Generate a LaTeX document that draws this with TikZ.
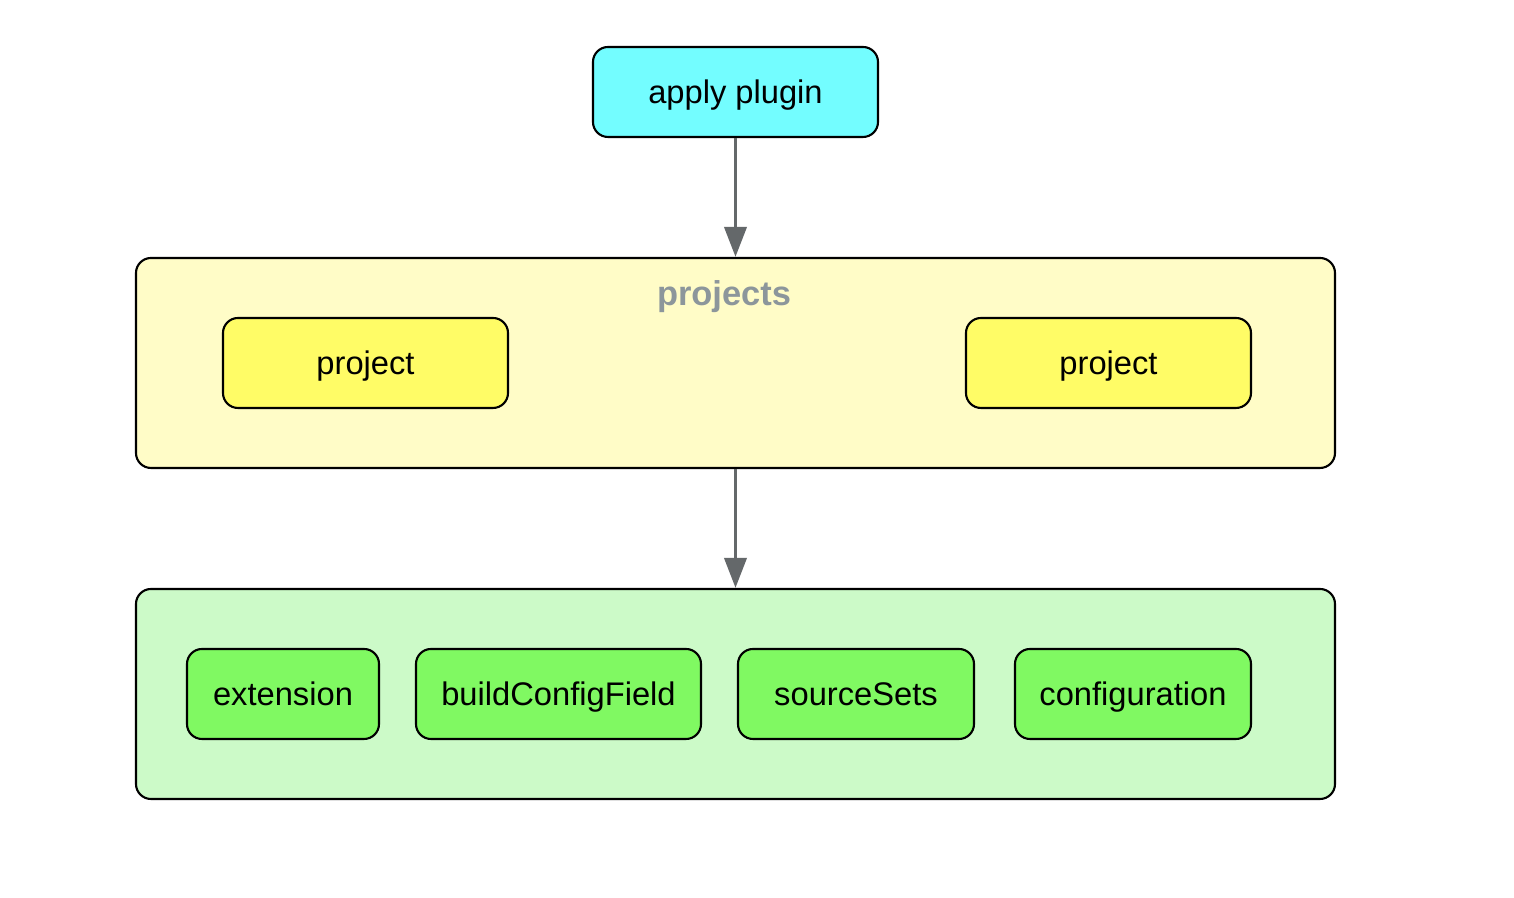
\documentclass[tikz,border=0pt]{standalone}
\usepackage{fontspec}
\setmainfont{Liberation Sans}
\usetikzlibrary{arrows.meta}
\definecolor{applycyan}{RGB}{115,253,255}
\definecolor{groupyellow}{RGB}{255,252,199}
\definecolor{projyellow}{RGB}{255,252,102}
\definecolor{groupgreen}{RGB}{204,250,200}
\definecolor{itemgreen}{RGB}{128,249,98}
\definecolor{arrowgray}{RGB}{100,104,106}
\definecolor{labelgray}{RGB}{140,150,155}
\tikzset{
    box/.style={draw, line width=0.6pt, rounded corners=0.15cm, minimum height=0.9cm, text height=0.8em, text depth=0.12em, font=\fontsize{9.3}{11}\selectfont},
    group/.style={draw, line width=0.6pt, rounded corners=0.15cm, minimum width=11.99cm, minimum height=2.1cm},
    flow/.style={draw=arrowgray, line width=1.1pt, -{Triangle[length=0.3cm,width=0.22cm]}}
}
\begin{document}
\begin{tikzpicture}
    \useasboundingbox (0,0) rectangle (15.14,8.98);
    % Top
    \node[box, fill=applycyan, minimum width=2.85cm] (apply) at (7.355,8.06) {apply plugin};
    % Projects group
    \node[group, fill=groupyellow] (projects) at (7.355,5.35) {};
    \node[font=\bfseries\fontsize{9.8}{12}\selectfont, text=labelgray] (projlabel) at (7.24,6.01) {projects};
    \node[box, fill=projyellow, minimum width=2.85cm] (projA) at (3.655,5.35) {project};
    \node[box, fill=projyellow, minimum width=2.85cm] (projB) at (11.085,5.35) {project};
    % Feature group
    \node[group, fill=groupgreen] (features) at (7.355,2.04) {};
    \node[box, fill=itemgreen, minimum width=1.92cm] (extension) at (2.83,2.04) {extension};
    \node[box, fill=itemgreen, minimum width=2.85cm] (buildfield) at (5.585,2.04) {buildConfigField};
    \node[box, fill=itemgreen, minimum width=2.36cm] (sourcesets) at (8.56,2.04) {sourceSets};
    \node[box, fill=itemgreen, minimum width=2.36cm] (configuration) at (11.33,2.04) {configuration};
    % Arrows
    \draw[flow] (apply.south) -- (projects.north);
    \draw[flow] (projects.south) -- (features.north);
\end{tikzpicture}
\end{document}
